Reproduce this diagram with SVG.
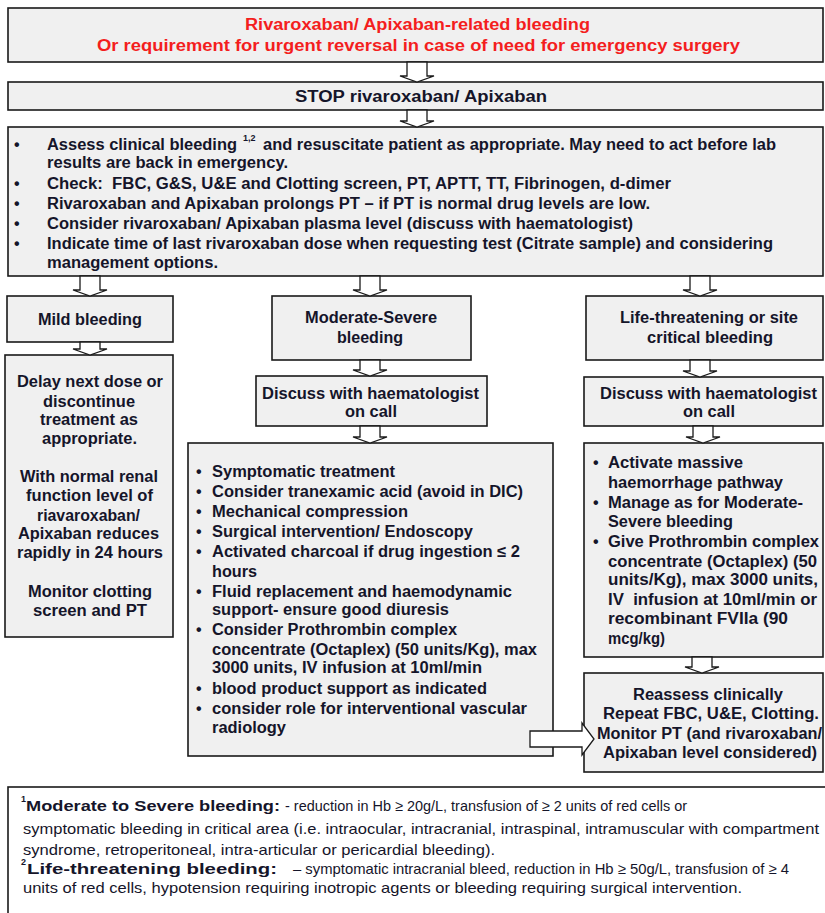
<svg xmlns="http://www.w3.org/2000/svg" width="825" height="913" viewBox="0 0 825 913">
<style>
.bx{fill:#f0f0f0;stroke:#1a1a1a;stroke-width:1.6}
.ft{fill:#ffffff;stroke:#1a1a1a;stroke-width:1.6}
text{font-family:"Liberation Sans",Arial,sans-serif;font-weight:bold;font-size:16px;fill:#15152a}
.red{fill:#f41e1e}
.n{font-weight:normal;font-size:15px}
.fb{font-size:15px}
.sup{font-size:9px}
.cn path{fill:#ffffff;stroke:#1a1a1a;stroke-width:1.3;stroke-linejoin:miter}
</style>
<rect width="825" height="913" fill="#ffffff"/>

<g id="n-title">
<rect class="bx" x="8" y="8" width="815" height="54"/>
<text class="red" x="245" y="30" textLength="345" lengthAdjust="spacingAndGlyphs">Rivaroxaban/ Apixaban-related bleeding</text>
<text class="red" x="97" y="51" textLength="643" lengthAdjust="spacingAndGlyphs">Or requirement for urgent reversal in case of need for emergency surgery</text>
</g>

<g id="n-stop">
<rect class="bx" x="8" y="82" width="815" height="28"/>
<text x="295" y="102" textLength="252" lengthAdjust="spacingAndGlyphs">STOP rivaroxaban/ Apixaban</text>
</g>

<g id="n-assess">
<rect class="bx" x="8" y="127" width="815" height="149"/>
<text x="14" y="150">•</text>
<text x="47" y="150" textLength="190" lengthAdjust="spacingAndGlyphs">Assess clinical bleeding</text>
<text class="sup" x="243" y="141">1,2</text>
<text x="263" y="150" textLength="513" lengthAdjust="spacingAndGlyphs">and resuscitate patient as appropriate. May need to act before lab</text>
<text x="47" y="168" textLength="241" lengthAdjust="spacingAndGlyphs">results are back in emergency.</text>
<text x="14" y="189">•</text>
<text x="47" y="189" textLength="624" lengthAdjust="spacingAndGlyphs" style="white-space:pre">Check:  FBC, G&amp;S, U&amp;E and Clotting screen, PT, APTT, TT, Fibrinogen, d-dimer</text>
<text x="14" y="209">•</text>
<text x="47" y="209" textLength="603" lengthAdjust="spacingAndGlyphs">Rivaroxaban and Apixaban prolongs PT – if PT is normal drug levels are low.</text>
<text x="14" y="229">•</text>
<text x="47" y="229" textLength="586" lengthAdjust="spacingAndGlyphs">Consider rivaroxaban/ Apixaban plasma level (discuss with haematologist)</text>
<text x="14" y="249">•</text>
<text x="47" y="249" textLength="726" lengthAdjust="spacingAndGlyphs">Indicate time of last rivaroxaban dose when requesting test (Citrate sample) and considering</text>
<text x="47" y="268" textLength="171" lengthAdjust="spacingAndGlyphs">management options.</text>
</g>

<g id="n-mild">
<rect class="bx" x="7" y="296" width="166" height="46"/>
<text x="38" y="325" textLength="104" lengthAdjust="spacingAndGlyphs">Mild bleeding</text>
</g>

<g id="n-mild-action">
<rect class="bx" x="5" y="355" width="168" height="282"/>
<text x="17" y="387" textLength="146" lengthAdjust="spacingAndGlyphs">Delay next dose or</text>
<text x="43" y="407" textLength="92" lengthAdjust="spacingAndGlyphs">discontinue</text>
<text x="40" y="425" textLength="98" lengthAdjust="spacingAndGlyphs">treatment as</text>
<text x="42" y="444" textLength="95" lengthAdjust="spacingAndGlyphs">appropriate.</text>
<text x="20" y="482" textLength="138" lengthAdjust="spacingAndGlyphs">With normal renal</text>
<text x="26" y="501" textLength="127" lengthAdjust="spacingAndGlyphs">function level of</text>
<text x="37" y="521" textLength="103" lengthAdjust="spacingAndGlyphs">riavaroxaban/</text>
<text x="18" y="539" textLength="141" lengthAdjust="spacingAndGlyphs">Apixaban reduces</text>
<text x="17" y="558" textLength="146" lengthAdjust="spacingAndGlyphs">rapidly in 24 hours</text>
<text x="28" y="597" textLength="124" lengthAdjust="spacingAndGlyphs">Monitor clotting</text>
<text x="33" y="616" textLength="114" lengthAdjust="spacingAndGlyphs">screen and PT</text>
</g>

<g id="n-moderate">
<rect class="bx" x="272" y="296" width="199" height="64"/>
<text x="305" y="323" textLength="132" lengthAdjust="spacingAndGlyphs">Moderate-Severe</text>
<text x="337" y="343" textLength="66" lengthAdjust="spacingAndGlyphs">bleeding</text>
</g>

<g id="n-discuss-mid">
<rect class="bx" x="256" y="376" width="231" height="50"/>
<text x="262" y="399" textLength="217" lengthAdjust="spacingAndGlyphs">Discuss with haematologist</text>
<text x="345" y="417" textLength="52" lengthAdjust="spacingAndGlyphs">on call</text>
</g>

<g id="n-mod-actions">
<rect class="bx" x="188" y="443" width="365" height="313"/>
<text x="196" y="477">•</text>
<text x="212" y="477" textLength="183" lengthAdjust="spacingAndGlyphs">Symptomatic treatment</text>
<text x="196" y="497">•</text>
<text x="212" y="497" textLength="311" lengthAdjust="spacingAndGlyphs">Consider tranexamic acid (avoid in DIC)</text>
<text x="196" y="517">•</text>
<text x="212" y="517" textLength="196" lengthAdjust="spacingAndGlyphs">Mechanical compression</text>
<text x="196" y="537">•</text>
<text x="212" y="537" textLength="261" lengthAdjust="spacingAndGlyphs">Surgical intervention/ Endoscopy</text>
<text x="196" y="557">•</text>
<text x="212" y="557" textLength="308" lengthAdjust="spacingAndGlyphs">Activated charcoal if drug ingestion ≤ 2</text>
<text x="212" y="577" textLength="45" lengthAdjust="spacingAndGlyphs">hours</text>
<text x="196" y="597">•</text>
<text x="212" y="597" textLength="300" lengthAdjust="spacingAndGlyphs">Fluid replacement and haemodynamic</text>
<text x="212" y="615" textLength="237" lengthAdjust="spacingAndGlyphs">support- ensure good diuresis</text>
<text x="196" y="635">•</text>
<text x="212" y="635" textLength="245" lengthAdjust="spacingAndGlyphs">Consider Prothrombin complex</text>
<text x="212" y="655" textLength="325" lengthAdjust="spacingAndGlyphs">concentrate (Octaplex) (50 units/Kg), max</text>
<text x="212" y="673" textLength="270" lengthAdjust="spacingAndGlyphs">3000 units, IV infusion at 10ml/min</text>
<text x="196" y="694">•</text>
<text x="212" y="694" textLength="275" lengthAdjust="spacingAndGlyphs">blood product support as indicated</text>
<text x="196" y="714">•</text>
<text x="212" y="714" textLength="315" lengthAdjust="spacingAndGlyphs">consider role for interventional vascular</text>
<text x="212" y="733" textLength="74" lengthAdjust="spacingAndGlyphs">radiology</text>
</g>

<g id="n-life">
<rect class="bx" x="586" y="296" width="237" height="64"/>
<text x="620" y="323" textLength="178" lengthAdjust="spacingAndGlyphs">Life-threatening or site</text>
<text x="647" y="343" textLength="126" lengthAdjust="spacingAndGlyphs">critical bleeding</text>
</g>

<g id="n-discuss-right">
<rect class="bx" x="584" y="377" width="239" height="49"/>
<text x="600" y="399" textLength="217" lengthAdjust="spacingAndGlyphs">Discuss with haematologist</text>
<text x="683" y="417" textLength="52" lengthAdjust="spacingAndGlyphs">on call</text>
</g>

<g id="n-life-actions">
<rect class="bx" x="584" y="443" width="239" height="214"/>
<text x="593" y="468">•</text>
<text x="608" y="468" textLength="135" lengthAdjust="spacingAndGlyphs">Activate massive</text>
<text x="608" y="488" textLength="175" lengthAdjust="spacingAndGlyphs">haemorrhage pathway</text>
<text x="593" y="508">•</text>
<text x="608" y="508" textLength="195" lengthAdjust="spacingAndGlyphs">Manage as for Moderate-</text>
<text x="608" y="527" textLength="125" lengthAdjust="spacingAndGlyphs">Severe bleeding</text>
<text x="593" y="547">•</text>
<text x="608" y="547" textLength="211" lengthAdjust="spacingAndGlyphs">Give Prothrombin complex</text>
<text x="608" y="567" textLength="209" lengthAdjust="spacingAndGlyphs">concentrate (Octaplex) (50</text>
<text x="608" y="585" textLength="210" lengthAdjust="spacingAndGlyphs">units/Kg), max 3000 units,</text>
<text x="608" y="605" textLength="209" lengthAdjust="spacingAndGlyphs" style="white-space:pre">IV  infusion at 10ml/min or</text>
<text x="608" y="624" textLength="180" lengthAdjust="spacingAndGlyphs">recombinant FVIIa (90</text>
<text x="608" y="644" textLength="57" lengthAdjust="spacingAndGlyphs">mcg/kg)</text>
</g>

<g id="n-reassess">
<rect class="bx" x="584" y="673" width="239" height="99"/>
<text x="633" y="700" textLength="150" lengthAdjust="spacingAndGlyphs">Reassess clinically</text>
<text x="603" y="719" textLength="216" lengthAdjust="spacingAndGlyphs">Repeat FBC, U&amp;E, Clotting.</text>
<text x="597" y="739" textLength="225" lengthAdjust="spacingAndGlyphs">Monitor PT (and rivaroxaban/</text>
<text x="603" y="758" textLength="214" lengthAdjust="spacingAndGlyphs">Apixaban level considered)</text>
</g>

<g id="n-footnotes">
<rect class="ft" x="8" y="787" width="830" height="140"/>
<text class="sup" x="21" y="802">1</text>
<text class="fb" x="26" y="811" textLength="254" lengthAdjust="spacingAndGlyphs">Moderate to Severe bleeding:</text>
<text class="n" x="285" y="811" textLength="402" lengthAdjust="spacingAndGlyphs">- reduction in Hb ≥ 20g/L, transfusion of ≥ 2 units of red cells or</text>
<text class="n" x="23" y="834" textLength="796" lengthAdjust="spacingAndGlyphs">symptomatic bleeding in critical area (i.e. intraocular, intracranial, intraspinal, intramuscular with compartment</text>
<text class="n" x="23" y="855" textLength="472" lengthAdjust="spacingAndGlyphs">syndrome, retroperitoneal, intra-articular or pericardial bleeding).</text>
<text class="sup" x="21" y="865">2</text>
<text class="fb" x="27" y="874" textLength="250" lengthAdjust="spacingAndGlyphs">Life-threatening bleeding:</text>
<text class="n" x="293" y="874" textLength="496" lengthAdjust="spacingAndGlyphs">– symptomatic intracranial bleed, reduction in Hb ≥ 50g/L, transfusion of ≥ 4</text>
<text class="n" x="23" y="893" textLength="719" lengthAdjust="spacingAndGlyphs">units of red cells, hypotension requiring inotropic agents or bleeding requiring surgical intervention.</text>
</g>

<g id="connectors" class="cn">
<path d="M407,62 V76 H400 L417,82 L434,76 H427 V62 Z"/>
<path d="M407,110 V121 H400 L417,127 L434,121 H427 V110 Z"/>
<path d="M80,276 V290 H73 L90,296 L107,290 H100 V276 Z"/>
<path d="M360,276 V290 H353 L370,296 L387,290 H380 V276 Z"/>
<path d="M690,276 V290 H683 L700,296 L717,290 H710 V276 Z"/>
<path d="M80,342 V349 H73 L90,355 L107,349 H100 V342 Z"/>
<path d="M360,360 V370 H353 L370,376 L387,370 H380 V360 Z"/>
<path d="M360,426 V437 H353 L370,443 L387,437 H380 V426 Z"/>
<path d="M690,360 V371 H683 L700,377 L717,371 H710 V360 Z"/>
<path d="M693,426 V437 H686 L703,443 L720,437 H713 V426 Z"/>
<path d="M692,657 V667 H685 L702,673 L719,667 H712 V657 Z"/>
<path d="M530,731 H582 V723 L594,739 L582,755 V747 H530 Z"/>
</g>
</svg>
